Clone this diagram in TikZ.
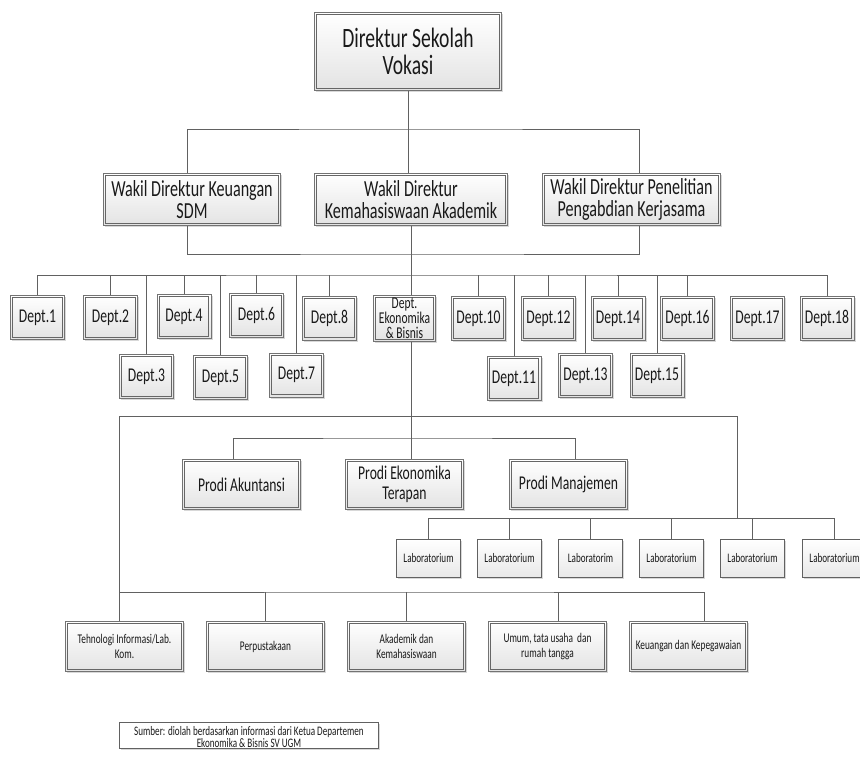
\documentclass[tikz,border=0pt]{standalone}
\usepackage{fontspec}
\setmainfont[FakeStretch=0.7]{Carlito}
\usetikzlibrary{shadows}
\begin{document}
\begin{tikzpicture}[x=1pt,y=-1pt,
  conn/.style={draw=black!62,line width=0.9pt},
  dbox/.style={draw=black!55,line width=0.8pt,
    top color=white,bottom color=black!11,
    drop shadow={shadow xshift=1.6pt,shadow yshift=-1.6pt,fill=black!30},
    path picture={\draw[black!60,line width=0.8pt]
      ([shift={(2.2pt,-2.2pt)}]path picture bounding box.north west) rectangle
      ([shift={(-2.2pt,2.2pt)}]path picture bounding box.south east);},
    inner sep=0pt,align=center,text=black!90},
  sbox/.style={draw=black!62,line width=0.8pt,
    top color=white,bottom color=black!9,
    drop shadow={shadow xshift=1.6pt,shadow yshift=-1.6pt,fill=black!30},
    inner sep=0pt,align=center,text=black!90},
  topf/.style={font=\fontsize{28}{27}\selectfont},
  wakf/.style={font=\fontsize{23}{22}\selectfont},
  depf/.style={font=\fontsize{19.5}{20}\selectfont},
  ekof/.style={font=\fontsize{16.5}{15}\selectfont},
  prof/.style={font=\fontsize{19.5}{20}\selectfont},
  labf/.style={font=\fontsize{13}{15}\selectfont},
  botf/.style={font=\fontsize{13.3}{15}\selectfont},
  srcf/.style={font=\fontsize{13}{14}\selectfont},
  depA/.style={dbox,depf,minimum width=54pt,minimum height=44pt},
  labbox/.style={sbox,labf,minimum width=64pt,minimum height=38pt},
  botbox/.style={dbox,botf,minimum width=118pt,minimum height=50pt},
  probox/.style={dbox,prof,minimum width=118pt,minimum height=50pt}
]
\useasboundingbox (0,0) rectangle (860,759);
\fill[white] (0,0) rectangle (860,759);

% coordinates for bars
\coordinate (tbar) at (408,129);
\coordinate (sbar) at (411,254);
\coordinate (dbar) at (411,275);
\coordinate (bbar) at (411,416.5);
\coordinate (pbar) at (411,438);
\coordinate (lbar) at (737,518.5);
\coordinate (obar) at (407,592);

% --- nodes ---
\node[dbox,topf,minimum width=187pt,minimum height=78pt] (top) at (408,51.5) {Direktur Sekolah\\Vokasi};
\node[dbox,wakf,minimum width=177pt,minimum height=52pt] (keu) at (192,199.5) {Wakil Direktur Keuangan\\SDM};
\node[dbox,wakf,minimum width=193pt,minimum height=52pt] (kem) at (411,199.5) {Wakil Direktur\\Kemahasiswaan Akademik};
\node[dbox,wakf,minimum width=178pt,minimum height=52pt] (pen) at (631.5,199.5) {Wakil Direktur Penelitian\\Pengabdian Kerjasama};

\node[depA] (d1) at (37.5,317.5) {Dept.1};
\node[depA] (d2) at (110.5,317.5) {Dept.2};
\node[depA] (d3) at (146.5,376.5) {Dept.3};
\node[depA] (d4) at (184,316.5) {Dept.4};
\node[depA] (d5) at (220.5,377.5) {Dept.5};
\node[depA] (d6) at (256.5,315.5) {Dept.6};
\node[depA] (d7) at (296.5,375) {Dept.7};
\node[depA] (d8) at (329.5,318) {Dept.8};
\node[dbox,ekof,minimum width=62pt,minimum height=46pt] (eko) at (404.5,318.5) {Dept.\\Ekonomika\\\&{} Bisnis};
\node[depA] (d10) at (478.5,318.5) {Dept.10};
\node[depA] (d11) at (514,378.5) {Dept.11};
\node[depA] (d12) at (548.5,318.5) {Dept.12};
\node[depA] (d13) at (585.5,375.5) {Dept.13};
\node[depA] (d14) at (618,318.5) {Dept.14};
\node[depA] (d15) at (657,375.5) {Dept.15};
\node[depA] (d16) at (687.5,318.5) {Dept.16};
\node[depA] (d17) at (757.5,318.5) {Dept.17};
\node[depA] (d18) at (827,318.5) {Dept.18};

\node[probox] (prA) at (241.5,484.5) {Prodi Akuntansi};
\node[probox] (prE) at (404.5,484.5) {Prodi Ekonomika\\Terapan};
\node[probox] (prM) at (568.5,484.5) {Prodi Manajemen};

\node[labbox] (l1) at (428.5,558.5) {Laboratorium};
\node[labbox] (l2) at (509.5,558.5) {Laboratorium};
\node[labbox] (l3) at (590.5,558.5) {Laboratorim};
\node[labbox] (l4) at (671.5,558.5) {Laboratorium};
\node[labbox] (l5) at (752.5,558.5) {Laboratorium};
\node[labbox] (l6) at (834.5,558.5) {Laboratorium};

\node[botbox] (ti) at (124.5,646.5) {Tehnologi Informasi/Lab.\\Kom.};
\node[botbox] (per) at (265.5,646.5) {Perpustakaan};
\node[botbox] (aka) at (406.5,646.5) {Akademik dan\\Kemahasiswaan};
\node[botbox] (umu) at (547.5,646.5) {Umum, tata usaha\ \ dan\\rumah tangga};
\node[botbox] (kep) at (688.5,646.5) {Keuangan dan Kepegawaian};

\node[draw=black!62,line width=0.8pt,fill=white,
  drop shadow={shadow xshift=1.6pt,shadow yshift=-1.6pt,fill=black!30},
  srcf,align=center,inner sep=0pt,text=black!90,
  minimum width=259pt,minimum height=26pt,text depth=0pt] (src) at (249,735.5)
  {\raisebox{4pt}{\begin{tabular}{@{}c@{}}Sumber: diolah berdasarkan informasi dari Ketua Departemen\\[-2pt]Ekonomika \& Bisnis SV UGM\end{tabular}}};

% --- connectors ---
\draw[conn] (top.south) -- (top.south |- kem.north);
\draw[conn] ([xshift=-5pt]keu.north) |- (tbar) -| ([xshift=7.5pt]pen.north);
\draw[conn] ([xshift=-5pt]keu.south) |- (sbar) -| ([xshift=7.5pt]pen.south);
\draw[conn] (kem.south) -- (kem.south |- eko.north);
\draw[conn] (d1.north) |- (dbar) -| (d18.north);
\foreach \n in {d2,d3,d4,d5,d6,d7,d8,d10,d11,d12,d13,d14,d15,d16}
  \draw[conn] (\n.north) -- (\n.north |- dbar);
\draw[conn] (kem.south |- eko.south) -- (kem.south |- prE.north);
\draw[conn] ([xshift=-5.5pt]ti.north) |- (bbar) -| (lbar);
\draw[conn] ([xshift=-8.5pt]prA.north) |- (pbar) -| ([xshift=6.5pt]prM.north);
\draw[conn] (l1.north) |- (lbar) -| (l6.north);
\foreach \n in {l2,l3,l4,l5}
  \draw[conn] (\n.north) -- (\n.north |- lbar);
\draw[conn] ([xshift=-5.5pt]ti.north |- obar) -- (obar) -| ([xshift=15.5pt]kep.north);
\draw[conn] (per.north) -- (per.north |- obar);
\draw[conn] (aka.north) -- (aka.north |- obar);
\draw[conn] ([xshift=10.5pt]umu.north) -- ([xshift=10.5pt]umu.north |- obar);
\end{tikzpicture}
\end{document}
